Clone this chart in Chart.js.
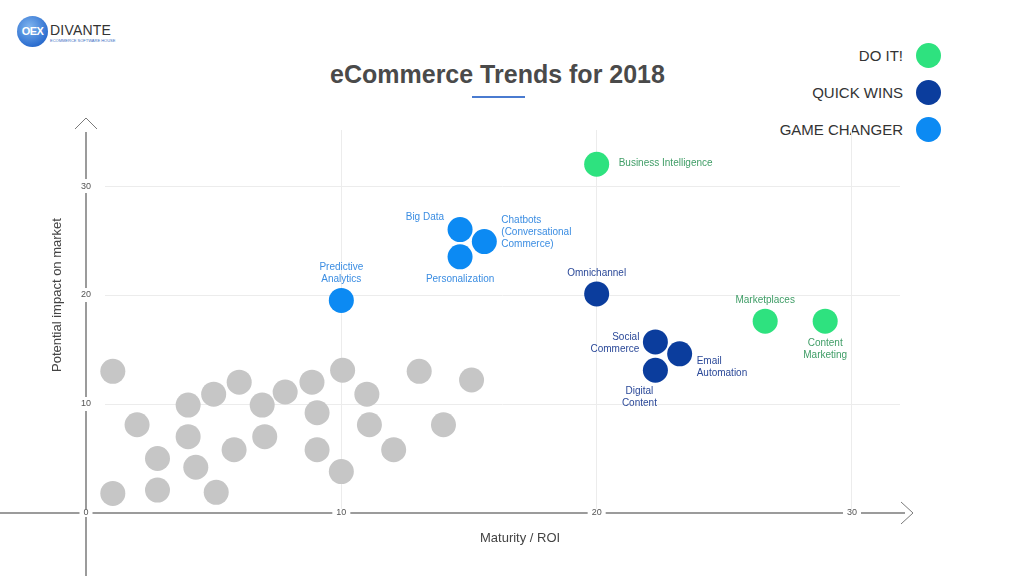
<!DOCTYPE html>
<html>
<head>
<meta charset="utf-8">
<script src="https://cdn.jsdelivr.net/npm/chart.js@4/dist/chart.umd.min.js"></script>
<style>
  html, body { margin: 0; padding: 0; background: #fff; }
  body { width: 1024px; height: 576px; position: relative; overflow: hidden; font-family: "Liberation Sans", Arial, sans-serif; }
  #chart { position: absolute; left: 0; top: 0; }
  .logo { position: absolute; left: 17px; top: 16px; }
  .logo .mark { position: absolute; left: 0; top: 0; width: 31px; height: 31px; border-radius: 50%;
    background: radial-gradient(circle at 40% 35%, #7fb4ee, #2d6fd0 70%, #1f55b0);
    color: #fff; font-weight: bold; font-size: 11px; line-height: 31px; text-align: center; letter-spacing: -0.5px; }
  .logo .name { position: absolute; left: 33px; top: 6px; font-size: 14px; color: #333; letter-spacing: 0.2px; }
  .logo .sub { position: absolute; left: 33px; top: 22px; font-size: 4px; color: #3b6fc4; white-space: nowrap; }
  .title { position: absolute; left: 0; width: 995px; top: 60px; text-align: center; font-size: 25px; font-weight: bold; color: #4a4a4a; }
  .rule { position: absolute; left: 472px; top: 96px; width: 53px; height: 2px; background: #4a7bd0; }
  .legend { position: absolute; right: 83px; top: 37px; }
  .legend .item { display: flex; align-items: center; justify-content: flex-end; height: 37px; }
  .legend .item span { font-size: 15px; color: #333; margin-right: 13px; }
  .legend .item i { display: block; width: 25px; height: 25px; border-radius: 50%; }
</style>
</head>
<body>
<div class="logo">
  <div class="mark">OEX</div>
  <div class="name">DIVANTE</div>
  <div class="sub">ECOMMERCE SOFTWARE HOUSE</div>
</div>
<div class="title">eCommerce Trends for 2018</div>
<div class="rule"></div>
<div class="legend" id="legend"></div>
<canvas id="chart" width="1024" height="576"></canvas>
<script>
// ---- data ----
const xTicks = [0, 10, 20, 30];
const yTicks = [10, 20, 30];
const xTitle = "Maturity / ROI";
const yTitle = "Potential impact on market";

// unnamed trends (grey)
const otherX = [1.05, 2.0, 2.8, 1.05, 2.8, 4.0, 4.0, 4.3, 5.0, 5.1, 6.0, 5.8, 6.9, 7.0, 7.8, 8.85, 9.05, 9.05, 10.05, 10.0, 11.0, 11.1, 12.05, 13.05, 14.0, 15.1];
const otherY = [13.0, 8.1, 5.0, 1.8, 2.1, 9.9, 7.0, 4.2, 10.9, 1.9, 12.0, 5.8, 9.9, 7.0, 11.1, 12.0, 9.2, 5.8, 13.1, 3.8, 10.9, 8.1, 5.8, 13.0, 8.1, 12.2];

const seriesNames = ["DO IT!", "QUICK WINS", "GAME CHANGER"];

const doItNames = ["Business Intelligence", "Marketplaces", "Content\nMarketing"];
const doItX = [20.0, 26.6, 28.95];
const doItY = [32.0, 17.6, 17.6];

const quickNames = ["Omnichannel", "Social\nCommerce", "Email\nAutomation", "Digital\nContent"];
const quickX = [20.0, 22.3, 23.25, 22.3];
const quickY = [20.1, 15.7, 14.6, 13.1];

const gameNames = ["Predictive\nAnalytics", "Big Data", "Chatbots\n(Conversational\nCommerce)", "Personalization"];
const gameX = [10.0, 14.65, 15.6, 14.65];
const gameY = [19.5, 26.0, 24.9, 23.5];

// ---- styling ----
const dotColors = ["#2ee27f", "#0b3d9d", "#0c8af3"];
const textColors = ["#3f9d66", "#2a4898", "#3b8de2"];
const greyDot = "#c6c6c6";

// where each label sits relative to its dot
const labelSpots = [
  ["right", "above", "below"],
  ["above", "left", "downright", "downleft"],
  ["above", "upleft", "upright", "below"]
];

const toPoints = (xs, ys) => xs.map((x, i) => ({ x: x, y: ys[i] }));

// legend
const legendEl = document.getElementById("legend");
seriesNames.forEach((name, i) => {
  const item = document.createElement("div");
  item.className = "item";
  item.innerHTML = `<span>${name}</span><i style="background:${dotColors[i]}"></i>`;
  legendEl.appendChild(item);
});

// axes, arrows, tick labels and point labels
const decorations = {
  id: "decorations",
  beforeDatasetsDraw(chart) {
    const c = chart.ctx;
    const xs = chart.scales.x, ys = chart.scales.y;
    const x0 = xs.getPixelForValue(0);
    const y0 = ys.getPixelForValue(0);
    c.save();
    c.strokeStyle = "#7a7a7a";
    c.lineWidth = 1.5;
    // y axis
    c.beginPath();
    c.moveTo(x0, ys.top + 2);
    c.lineTo(x0, chart.height);
    c.stroke();
    c.beginPath();
    c.moveTo(x0 - 11, ys.top - 1);
    c.lineTo(x0, ys.top - 12);
    c.lineTo(x0 + 11, ys.top - 1);
    c.lineWidth = 1;
    c.stroke();
    // x axis
    c.lineWidth = 1.5;
    c.beginPath();
    c.moveTo(0, y0);
    c.lineTo(xs.right + 5, y0);
    c.stroke();
    c.lineWidth = 1;
    c.beginPath();
    c.moveTo(xs.right + 1, y0 - 11);
    c.lineTo(xs.right + 13, y0);
    c.lineTo(xs.right + 1, y0 + 11);
    c.stroke();

    // tick labels with a white gap in the axis
    c.font = "9px 'Liberation Sans', Arial, sans-serif";
    c.textAlign = "center";
    c.textBaseline = "middle";
    const tickLabel = (txt, px, py, horiz) => {
      const w = c.measureText(txt).width;
      c.fillStyle = "#fff";
      if (horiz) c.fillRect(px - w / 2 - 4, py - 4, w + 8, 8);
      else c.fillRect(px - 4, py - 7, 8, 14);
      c.fillStyle = "#555";
      c.fillText(txt, px, py);
    };
    xTicks.forEach(v => tickLabel(String(v), xs.getPixelForValue(v), y0, true));
    yTicks.forEach(v => tickLabel(String(v), x0, ys.getPixelForValue(v), false));

    // axis titles
    c.fillStyle = "#444";
    c.font = "13px 'Liberation Sans', Arial, sans-serif";
    c.fillText(xTitle, xs.getPixelForValue(17), y0 + 25);
    c.translate(57, ys.getPixelForValue(20));
    c.rotate(-Math.PI / 2);
    c.fillText(yTitle, 0, 0);
    c.restore();
  },
  afterDatasetsDraw(chart) {
    const c = chart.ctx;
    c.save();
    c.font = "10px 'Liberation Sans', Arial, sans-serif";
    c.textBaseline = "middle";
    const lh = 12;
    [doItNames, quickNames, gameNames].forEach((names, s) => {
      const meta = chart.getDatasetMeta(s + 1);
      c.fillStyle = textColors[s];
      names.forEach((name, i) => {
        const pt = meta.data[i];
        const lines = name.split("\n");
        const n = lines.length;
        let tx = pt.x, ty, align = "center";
        switch (labelSpots[s][i]) {
          case "right": tx = pt.x + 22; ty = pt.y - (n - 1) * lh / 2 - 1; align = "left"; break;
          case "upright": tx = pt.x + 17; ty = pt.y - 9 - (n - 1) * lh / 2; align = "left"; break;
          case "downright": tx = pt.x + 17; ty = pt.y + 13 - (n - 1) * lh / 2; align = "left"; break;
          case "left": tx = pt.x - 16; ty = pt.y + 1 - (n - 1) * lh / 2; align = "right"; break;
          case "upleft": tx = pt.x - 16; ty = pt.y - 12 - (n - 1) * lh / 2; align = "right"; break;
          case "downleft": tx = pt.x - 16; ty = pt.y + 21; break;
          case "above": ty = pt.y - 21 - (n - 1) * lh; break;
          case "below": ty = pt.y + 22; break;
        }
        c.textAlign = align;
        lines.forEach((ln, k) => c.fillText(ln, tx, ty + k * lh));
      });
    });
    c.restore();
  }
};

const dotStyle = { pointRadius: 12.5, pointHoverRadius: 12.5, pointBorderWidth: 0, clip: false };

new Chart(document.getElementById("chart"), {
  type: "scatter",
  data: {
    datasets: [
      { label: "other", data: toPoints(otherX, otherY), backgroundColor: greyDot, ...dotStyle },
      { label: seriesNames[0], data: toPoints(doItX, doItY), backgroundColor: dotColors[0], ...dotStyle },
      { label: seriesNames[1], data: toPoints(quickX, quickY), backgroundColor: dotColors[1], ...dotStyle },
      { label: seriesNames[2], data: toPoints(gameX, gameY), backgroundColor: dotColors[2], ...dotStyle }
    ]
  },
  options: {
    responsive: false,
    animation: false,
    events: [],
    layout: { padding: { left: 105, right: 124, top: 130, bottom: 66 } },
    plugins: { legend: { display: false }, tooltip: { enabled: false } },
    scales: {
      x: {
        min: 0.744, max: 31.88,
        afterBuildTicks: s => { s.ticks = [10, 20, 30].map(v => ({ value: v })); },
        ticks: { display: false },
        border: { display: false },
        grid: { color: "#ececec", drawTicks: false }
      },
      y: {
        min: 0.275, max: 35.14,
        afterBuildTicks: s => { s.ticks = yTicks.map(v => ({ value: v })); },
        ticks: { display: false },
        border: { display: false },
        grid: { color: "#ececec", drawTicks: false }
      }
    }
  },
  plugins: [decorations]
});
</script>
</body>
</html>
